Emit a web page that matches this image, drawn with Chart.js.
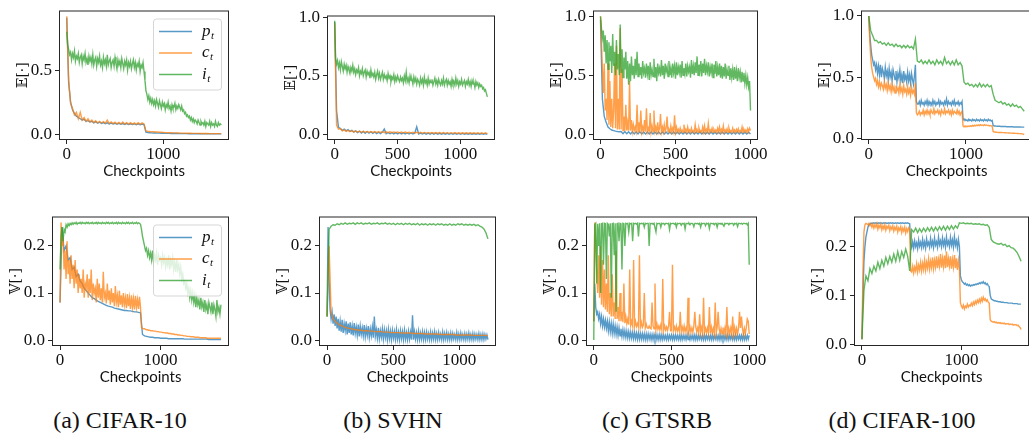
<!DOCTYPE html>
<html>
<head>
<meta charset="utf-8">
<script src="https://cdn.jsdelivr.net/npm/chart.js@4.4.1/dist/chart.umd.min.js"></script>
<style>
  html, body { margin: 0; padding: 0; background: #fff; }
  body { position: relative; width: 1029px; height: 436px; overflow: hidden; }
  canvas { position: absolute; }
  .cap { position: absolute; top: 408px; width: 300px; text-align: center;
         font: 24px "Liberation Serif", "Times New Roman", serif; line-height: 1; color: #111; }
</style>
</head>
<body>
<div class="cap" style="left:-30px">(a) CIFAR-10</div>
<div class="cap" style="left:243px">(b) SVHN</div>
<div class="cap" style="left:507px">(c) GTSRB</div>
<div class="cap" style="left:752px">(d) CIFAR-100</div>
<script>
// last checkpoint of each run; logged values are evenly spaced up to it
const spanCifar10 = 1600;
const spanSvhn = 1216;
const spanGtsrb = 1000;
const spanCifar100 = 1600;

// tick labels
const xTicksLong = [0, 1000];
const xTicksMid = [0, 500, 1000];
const meanTicksShort = [0, 0.5];
const meanTicks = [0, 0.5, 1.0];
const varTicks = [0, 0.1, 0.2];

const meanLabel = '𝔼[·]';
const varLabel = '𝕍[·]';
const seriesNames = [['p', 't'], ['c', 't'], ['i', 't']];

// ---- CIFAR-10 ----
const cifar10MeanP = [0.91,
  0.40,0.25,0.19,0.16,0.14,0.13,0.12,0.11,0.115,0.10,
  0.105,0.095,0.10,0.088,0.097,0.085,0.093,0.084,0.09,0.082,
  0.088,0.08,0.086,0.079,0.085,0.078,0.084,0.077,0.083,0.076,
  0.082,0.075,0.081,0.075,0.08,0.074,0.08,0.073,0.079,0.074,
  0.015,0.012,0.011,0.01,0.009,0.009,0.008,0.008,0.007,0.007,
  0.006,0.006,0.006,0.005,0.005,0.005,0.005,0.004,0.004,0.004,
  0.004,0.004,0.003,0.003,0.003,0.003,0.003,0.003,0.003,0.002,
  0.002,0.002,0.002,0.002,0.002,0.002,0.002,0.002,0.002,0.002];
const cifar10MeanC = [0.92,
  0.42,0.24,0.20,0.15,0.17,0.12,0.17,0.11,0.13,0.10,
  0.12,0.095,0.11,0.09,0.105,0.088,0.10,0.087,0.098,0.085,
  0.11,0.083,0.095,0.082,0.093,0.081,0.092,0.08,0.095,0.079,
  0.09,0.078,0.089,0.078,0.088,0.077,0.09,0.077,0.088,0.08,
  0.025,0.022,0.02,0.019,0.018,0.017,0.016,0.015,0.014,0.013,
  0.012,0.012,0.011,0.011,0.01,0.01,0.009,0.009,0.008,0.008,
  0.008,0.007,0.007,0.007,0.006,0.006,0.006,0.006,0.005,0.005,
  0.005,0.005,0.005,0.004,0.004,0.004,0.004,0.004,0.004,0.004];
const cifar10MeanI = [0.80,
  0.70,0.66,0.62,0.64,0.58,0.63,0.60,0.65,0.57,0.61,
  0.59,0.63,0.56,0.60,0.62,0.55,0.61,0.58,0.63,0.56,
  0.59,0.54,0.61,0.57,0.60,0.55,0.62,0.54,0.58,0.60,
  0.53,0.59,0.56,0.61,0.54,0.57,0.52,0.60,0.55,0.58,
  0.53,0.62,0.54,0.57,0.59,0.52,0.56,0.58,0.53,0.60,
  0.55,0.51,0.58,0.54,0.57,0.52,0.59,0.55,0.51,0.57,
  0.54,0.58,0.50,0.56,0.53,0.57,0.51,0.55,0.58,0.52,
  0.56,0.50,0.55,0.53,0.57,0.49,0.54,0.52,0.56,0.49,
  0.42,0.34,0.31,0.27,0.30,0.25,0.28,0.24,0.27,0.23,
  0.26,0.22,0.27,0.24,0.21,0.26,0.23,0.20,0.25,0.22,
  0.24,0.19,0.23,0.21,0.25,0.20,0.22,0.18,0.23,0.20,
  0.21,0.24,0.19,0.22,0.20,0.23,0.21,0.19,0.22,0.18,
  0.19,0.16,0.17,0.14,0.15,0.13,0.14,0.11,0.13,0.10,
  0.12,0.09,0.11,0.10,0.08,0.11,0.09,0.07,0.10,0.08,
  0.09,0.07,0.10,0.06,0.09,0.08,0.07,0.10,0.06,0.09,
  0.07,0.08,0.06,0.10,0.07,0.06,0.09,0.07,0.08,0.07];
const cifar10VarP = [0.08,
  0.24,0.19,0.20,0.17,0.175,0.15,0.155,0.135,0.14,0.125,
  0.12,0.11,0.105,0.10,0.095,0.09,0.088,0.085,0.082,0.08,
  0.078,0.076,0.074,0.072,0.071,0.07,0.068,0.067,0.066,0.065,
  0.064,0.063,0.063,0.062,0.062,0.061,0.06,0.06,0.059,0.058,
  0.012,0.009,0.008,0.007,0.006,0.006,0.005,0.005,0.005,0.004,
  0.004,0.004,0.004,0.003,0.003,0.003,0.003,0.003,0.003,0.003,
  0.003,0.002,0.002,0.002,0.002,0.002,0.002,0.002,0.002,0.002,
  0.002,0.002,0.002,0.001,0.001,0.001,0.001,0.001,0.001,0.001];
const cifar10VarC = [0.08,
  0.25,0.20,0.22,0.15,0.19,0.13,0.21,0.14,0.17,0.12,
  0.18,0.13,0.16,0.11,0.17,0.12,0.15,0.10,0.14,0.11,
  0.13,0.10,0.15,0.09,0.12,0.11,0.14,0.09,0.13,0.10,
  0.15,0.085,0.12,0.10,0.11,0.08,0.13,0.09,0.12,0.085,
  0.11,0.08,0.145,0.09,0.10,0.078,0.12,0.085,0.105,0.075,
  0.11,0.08,0.10,0.072,0.115,0.08,0.095,0.07,0.105,0.075,
  0.095,0.07,0.10,0.075,0.09,0.068,0.098,0.072,0.09,0.066,
  0.095,0.07,0.088,0.065,0.094,0.07,0.086,0.066,0.092,0.07,
  0.028,0.025,0.024,0.024,0.023,0.022,0.022,0.021,0.021,0.02,
  0.02,0.02,0.019,0.019,0.019,0.018,0.018,0.018,0.017,0.017,
  0.017,0.016,0.016,0.016,0.015,0.015,0.015,0.014,0.014,0.014,
  0.013,0.013,0.013,0.012,0.012,0.012,0.011,0.011,0.011,0.010,
  0.010,0.010,0.009,0.009,0.009,0.008,0.008,0.008,0.008,0.007,
  0.007,0.007,0.007,0.006,0.006,0.006,0.006,0.006,0.005,0.005,
  0.005,0.005,0.005,0.005,0.005,0.004,0.004,0.004,0.004,0.004,
  0.004,0.004,0.004,0.004,0.004,0.004,0.004,0.004,0.004,0.004];
const cifar10VarI = [0.15,
  0.22,0.24,0.21,0.235,0.23,0.245,0.24,0.247,0.243,0.248,
  0.245,0.249,0.246,0.249,0.247,0.25,0.246,0.249,0.248,0.25,
  0.247,0.25,0.248,0.249,0.247,0.25,0.248,0.25,0.247,0.249,
  0.248,0.25,0.247,0.249,0.248,0.25,0.247,0.25,0.248,0.249,
  0.247,0.25,0.248,0.249,0.247,0.25,0.248,0.25,0.247,0.249,
  0.248,0.25,0.247,0.249,0.248,0.25,0.247,0.25,0.248,0.249,
  0.247,0.25,0.248,0.249,0.247,0.25,0.248,0.25,0.247,0.249,
  0.248,0.25,0.247,0.249,0.248,0.25,0.247,0.249,0.248,0.246,
  0.235,0.22,0.21,0.2,0.19,0.195,0.18,0.19,0.175,0.185,
  0.17,0.19,0.165,0.18,0.17,0.185,0.16,0.18,0.17,0.175,
  0.16,0.18,0.165,0.175,0.155,0.17,0.16,0.18,0.15,0.17,
  0.16,0.175,0.15,0.165,0.145,0.17,0.15,0.16,0.14,0.155,
  0.13,0.14,0.12,0.125,0.11,0.12,0.10,0.11,0.09,0.105,
  0.085,0.10,0.08,0.095,0.07,0.09,0.075,0.085,0.065,0.09,
  0.07,0.08,0.06,0.085,0.065,0.075,0.055,0.08,0.07,0.06,
  0.08,0.055,0.075,0.065,0.05,0.085,0.06,0.07,0.055,0.075];

// ---- SVHN ----
const svhnMeanP = [0.96,
  0.20,0.06,0.05,0.035,0.045,0.03,0.04,0.025,0.035,0.02,
  0.03,0.015,0.028,0.012,0.025,0.01,0.024,0.01,0.022,0.008,
  0.02,0.007,0.018,0.006,0.02,0.045,0.006,0.016,0.005,0.015,
  0.004,0.015,0.004,0.014,0.004,0.013,0.003,0.012,0.003,0.012,
  0.003,0.012,0.065,0.003,0.011,0.003,0.011,0.002,0.01,0.002,
  0.01,0.002,0.01,0.002,0.009,0.002,0.009,0.002,0.009,0.002,
  0.008,0.002,0.008,0.002,0.008,0.001,0.008,0.001,0.007,0.001,
  0.007,0.001,0.007,0.001,0.007,0.001,0.006,0.001,0.006,0.001];
const svhnMeanC = [0.95,
  0.08,0.045,0.05,0.03,0.038,0.026,0.034,0.024,0.03,0.021,
  0.028,0.02,0.027,0.019,0.026,0.018,0.025,0.017,0.025,0.017,
  0.024,0.016,0.023,0.016,0.023,0.015,0.022,0.015,0.022,0.014,
  0.021,0.014,0.021,0.013,0.02,0.013,0.02,0.012,0.019,0.012,
  0.019,0.012,0.018,0.011,0.018,0.011,0.017,0.011,0.017,0.01,
  0.017,0.01,0.016,0.01,0.016,0.009,0.016,0.009,0.015,0.009,
  0.015,0.009,0.015,0.008,0.014,0.008,0.014,0.008,0.014,0.008,
  0.014,0.008,0.013,0.007,0.013,0.007,0.013,0.007,0.013,0.007];
const svhnMeanI = [0.97,
  0.65,0.60,0.63,0.57,0.61,0.55,0.62,0.58,0.54,0.60,
  0.56,0.59,0.53,0.58,0.55,0.52,0.57,0.54,0.59,0.53,
  0.56,0.51,0.55,0.53,0.57,0.50,0.54,0.52,0.56,0.50,
  0.53,0.55,0.49,0.54,0.51,0.53,0.48,0.55,0.50,0.52,
  0.49,0.53,0.47,0.51,0.54,0.48,0.52,0.47,0.50,0.53,
  0.47,0.51,0.48,0.50,0.46,0.52,0.48,0.50,0.45,0.49,
  0.47,0.51,0.45,0.49,0.46,0.50,0.47,0.45,0.49,0.46,
  0.48,0.44,0.50,0.46,0.53,0.45,0.48,0.44,0.50,0.46,
  0.47,0.43,0.49,0.45,0.48,0.43,0.47,0.45,0.42,0.48,
  0.44,0.47,0.42,0.49,0.44,0.46,0.42,0.48,0.43,0.46,
  0.44,0.47,0.42,0.45,0.48,0.43,0.46,0.42,0.47,0.44,
  0.42,0.46,0.43,0.48,0.42,0.45,0.47,0.42,0.46,0.43,
  0.45,0.41,0.47,0.43,0.45,0.42,0.48,0.43,0.46,0.41,
  0.45,0.43,0.47,0.42,0.44,0.46,0.41,0.45,0.43,0.47,
  0.42,0.45,0.41,0.46,0.43,0.44,0.40,0.45,0.42,0.44,
  0.40,0.43,0.41,0.42,0.39,0.40,0.37,0.38,0.35,0.32];
const svhnVarP = [0.05,
  0.24,0.13,0.065,0.045,0.06,0.035,0.055,0.03,0.05,0.025,
  0.045,0.02,0.04,0.018,0.043,0.015,0.035,0.02,0.04,0.012,
  0.035,0.015,0.038,0.012,0.03,0.01,0.036,0.014,0.028,0.01,
  0.033,0.008,0.03,0.012,0.026,0.009,0.032,0.007,0.025,0.01,
  0.03,0.006,0.024,0.009,0.028,0.005,0.05,0.008,0.022,0.004,
  0.026,0.003,0.02,0.006,0.024,0.002,0.022,0.005,0.02,0.001,
  0.023,0.003,0.019,0.001,0.021,0.004,0.018,0.001,0.022,0.002,
  0.017,0.001,0.02,0.003,0.018,0.001,0.021,0.002,0.016,0.001,
  0.019,0.002,0.017,0.001,0.053,0.001,0.018,0.002,0.016,0.001,
  0.019,0.001,0.015,0.002,0.018,0.001,0.016,0.001,0.017,0.002,
  0.014,0.001,0.017,0.001,0.015,0.002,0.018,0.001,0.014,0.001,
  0.016,0.002,0.013,0.001,0.017,0.001,0.014,0.002,0.016,0.001,
  0.013,0.001,0.015,0.001,0.014,0.002,0.012,0.001,0.016,0.001,
  0.013,0.001,0.015,0.002,0.012,0.001,0.014,0.001,0.013,0.002,
  0.015,0.001,0.012,0.001,0.014,0.001,0.013,0.002,0.012,0.001,
  0.014,0.001,0.012,0.001,0.013,0.001,0.012,0.002,0.011,0.001];
const svhnVarC = [0.05,
  0.2,0.06,0.045,0.04,0.036,0.033,0.031,0.029,0.027,0.026,
  0.025,0.024,0.023,0.022,0.022,0.021,0.021,0.02,0.02,0.02,
  0.019,0.019,0.019,0.018,0.018,0.018,0.018,0.017,0.017,0.017,
  0.017,0.016,0.016,0.016,0.016,0.016,0.015,0.015,0.015,0.015,
  0.015,0.015,0.014,0.014,0.014,0.014,0.014,0.014,0.013,0.013,
  0.013,0.013,0.013,0.013,0.013,0.012,0.012,0.012,0.012,0.012,
  0.012,0.012,0.012,0.011,0.011,0.011,0.011,0.011,0.011,0.011,
  0.011,0.011,0.01,0.01,0.01,0.01,0.01,0.01,0.01,0.009];
const svhnVarI = [0.05,
  0.235,0.242,0.245,0.244,0.247,0.245,0.248,0.246,0.249,0.246,
  0.248,0.247,0.249,0.246,0.249,0.247,0.249,0.246,0.248,0.247,
  0.249,0.246,0.248,0.247,0.249,0.246,0.248,0.247,0.249,0.246,
  0.248,0.246,0.248,0.245,0.248,0.246,0.248,0.245,0.248,0.246,
  0.248,0.245,0.247,0.245,0.248,0.244,0.247,0.245,0.247,0.244,
  0.247,0.245,0.247,0.244,0.247,0.245,0.247,0.244,0.246,0.244,
  0.247,0.244,0.246,0.244,0.247,0.245,0.247,0.244,0.246,0.244,
  0.246,0.244,0.246,0.243,0.245,0.242,0.24,0.236,0.228,0.215];

// ---- GTSRB ----
const gtsrbMeanP = [0.97,
  0.3,0.15,0.1,0.06,0.045,0.035,0.03,0.025,0.022,0.02,
  0.022,0.004,0.021,0.003,0.02,0.002,0.02,0.002,0.019,0.002,
  0.019,0.001,0.018,0.001,0.018,0.001,0.018,0.001,0.017,0.001,
  0.018,0.001,0.017,0.001,0.018,0.001,0.017,0.001,0.017,0.001,
  0.017,0.001,0.016,0.001,0.017,0.001,0.016,0.001,0.017,0.001,
  0.016,0.001,0.017,0.001,0.016,0.001,0.016,0.001,0.017,0.001,
  0.016,0.001,0.016,0.001,0.017,0.001,0.016,0.001,0.016,0.001,
  0.016,0.001,0.017,0.001,0.016,0.001,0.016,0.001,0.016,0.001];
const gtsrbMeanC = [1.0,
  0.8,0.55,0.35,0.6,0.2,0.3,0.12,0.6,0.08,0.45,
  0.06,0.3,0.05,0.2,0.6,0.05,0.75,0.04,0.3,0.04,
  0.9,0.04,0.55,0.03,0.15,0.03,0.25,0.03,0.1,0.03,
  0.45,0.03,0.12,0.025,0.08,0.03,0.06,0.025,0.25,0.02,
  0.1,0.025,0.2,0.02,0.06,0.025,0.12,0.02,0.22,0.02,
  0.05,0.025,0.18,0.02,0.07,0.02,0.2,0.025,0.06,0.02,
  0.1,0.02,0.05,0.17,0.02,0.06,0.02,0.08,0.02,0.05,
  0.15,0.02,0.04,0.02,0.07,0.02,0.05,0.02,0.16,0.02,
  0.06,0.02,0.04,0.015,0.05,0.02,0.035,0.015,0.08,0.02,
  0.04,0.015,0.06,0.02,0.035,0.015,0.05,0.02,0.03,0.015,
  0.08,0.02,0.04,0.015,0.05,0.02,0.03,0.015,0.06,0.02,
  0.07,0.015,0.04,0.02,0.09,0.015,0.035,0.02,0.05,0.015,
  0.04,0.02,0.035,0.015,0.05,0.02,0.06,0.015,0.04,0.02,
  0.07,0.015,0.035,0.02,0.045,0.015,0.05,0.02,0.03,0.015,
  0.05,0.02,0.035,0.015,0.04,0.02,0.045,0.015,0.03,0.02,
  0.06,0.015,0.04,0.02,0.035,0.015,0.045,0.02,0.05,0.03];
const gtsrbMeanI = [1.0,
  0.9,0.82,0.88,0.7,0.84,0.6,0.8,0.55,0.78,0.62,
  0.75,0.52,0.85,0.58,0.7,0.5,0.8,0.55,0.68,0.5,
  0.93,0.52,0.72,0.48,0.65,0.55,0.7,0.47,0.62,0.42,
  0.6,0.45,0.66,0.5,0.58,0.47,0.64,0.5,0.7,0.49,
  0.6,0.5,0.57,0.47,0.62,0.52,0.56,0.48,0.6,0.51,
  0.58,0.46,0.61,0.5,0.55,0.49,0.64,0.48,0.57,0.45,
  0.6,0.52,0.56,0.49,0.63,0.5,0.58,0.47,0.6,0.53,
  0.57,0.49,0.62,0.5,0.56,0.48,0.6,0.52,0.58,0.47,
  0.61,0.5,0.57,0.52,0.59,0.48,0.62,0.5,0.56,0.51,
  0.6,0.49,0.58,0.53,0.57,0.48,0.63,0.51,0.58,0.5,
  0.61,0.52,0.66,0.5,0.59,0.53,0.62,0.49,0.6,0.52,
  0.64,0.5,0.58,0.53,0.61,0.49,0.57,0.52,0.6,0.48,
  0.59,0.51,0.62,0.49,0.57,0.5,0.6,0.48,0.58,0.47,
  0.57,0.49,0.6,0.47,0.55,0.5,0.58,0.46,0.56,0.48,
  0.55,0.46,0.57,0.47,0.54,0.45,0.56,0.48,0.53,0.44,
  0.53,0.45,0.52,0.43,0.5,0.42,0.48,0.4,0.45,0.2];
const gtsrbVarP = [0.04,
  0.12,0.07,0.055,0.06,0.045,0.055,0.035,0.05,0.03,0.045,
  0.028,0.042,0.025,0.04,0.02,0.038,0.018,0.035,0.015,0.034,
  0.014,0.03,0.012,0.028,0.01,0.026,0.009,0.024,0.008,0.022,
  0.007,0.02,0.006,0.019,0.005,0.018,0.004,0.017,0.004,0.016,
  0.003,0.016,0.003,0.015,0.002,0.015,0.002,0.014,0.002,0.014,
  0.002,0.013,0.001,0.013,0.001,0.013,0.002,0.012,0.001,0.012,
  0.001,0.012,0.002,0.012,0.001,0.011,0.001,0.012,0.001,0.011,
  0.001,0.011,0.002,0.01,0.001,0.011,0.001,0.01,0.002,0.011,
  0.001,0.01,0.001,0.011,0.002,0.01,0.001,0.01,0.001,0.011,
  0.001,0.01,0.002,0.01,0.001,0.011,0.001,0.01,0.001,0.01,
  0.002,0.01,0.001,0.011,0.001,0.01,0.001,0.01,0.002,0.01,
  0.001,0.01,0.001,0.011,0.001,0.01,0.002,0.01,0.001,0.01,
  0.001,0.011,0.001,0.01,0.002,0.01,0.001,0.01,0.001,0.011,
  0.001,0.01,0.002,0.01,0.001,0.01,0.001,0.011,0.001,0.01,
  0.002,0.01,0.001,0.01,0.001,0.011,0.001,0.01,0.002,0.01,
  0.001,0.01,0.001,0.011,0.001,0.01,0.001,0.01,0.002,0.01];
const gtsrbVarC = [0.04,
  0.25,0.2,0.15,0.1,0.18,0.09,0.2,0.075,0.17,0.07,
  0.15,0.065,0.12,0.06,0.18,0.055,0.1,0.05,0.14,0.05,
  0.08,0.045,0.19,0.045,0.07,0.04,0.1,0.04,0.06,0.038,
  0.12,0.036,0.05,0.035,0.045,0.033,0.15,0.032,0.04,0.03,
  0.17,0.03,0.04,0.029,0.035,0.028,0.18,0.028,0.038,0.027,
  0.032,0.1,0.026,0.034,0.026,0.025,0.03,0.025,0.024,0.08,
  0.03,0.024,0.12,0.023,0.034,0.023,0.03,0.022,0.032,0.022,
  0.13,0.022,0.03,0.021,0.028,0.021,0.03,0.06,0.02,0.02,
  0.16,0.02,0.028,0.02,0.03,0.019,0.026,0.019,0.06,0.019,
  0.028,0.018,0.03,0.018,0.026,0.018,0.09,0.018,0.028,0.017,
  0.026,0.017,0.03,0.06,0.028,0.017,0.026,0.016,0.055,0.016,
  0.027,0.016,0.09,0.016,0.025,0.016,0.026,0.015,0.07,0.015,
  0.028,0.015,0.025,0.015,0.08,0.015,0.027,0.06,0.025,0.014,
  0.025,0.014,0.027,0.014,0.026,0.014,0.07,0.014,0.025,0.014,
  0.026,0.014,0.05,0.013,0.027,0.013,0.025,0.013,0.025,0.06,
  0.026,0.05,0.025,0.013,0.025,0.013,0.027,0.045,0.04,0.013];
const gtsrbVarI = [0.0,
  0.245,0.248,0.12,0.247,0.2,0.248,0.1,0.247,0.248,0.16,
  0.248,0.247,0.13,0.248,0.246,0.22,0.248,0.09,0.247,0.248,
  0.18,0.248,0.06,0.247,0.248,0.21,0.248,0.247,0.15,0.248,
  0.247,0.2,0.248,0.247,0.248,0.23,0.248,0.247,0.248,0.21,
  0.248,0.247,0.248,0.246,0.248,0.22,0.248,0.247,0.248,0.247,
  0.248,0.24,0.248,0.247,0.248,0.248,0.2,0.248,0.247,0.248,
  0.246,0.248,0.248,0.23,0.248,0.247,0.248,0.248,0.24,0.248,
  0.247,0.248,0.245,0.248,0.248,0.247,0.248,0.235,0.248,0.247,
  0.248,0.248,0.246,0.248,0.24,0.248,0.247,0.248,0.248,0.244,
  0.248,0.247,0.248,0.236,0.248,0.248,0.247,0.248,0.245,0.248,
  0.248,0.247,0.241,0.248,0.248,0.247,0.248,0.246,0.248,0.24,
  0.248,0.247,0.248,0.248,0.243,0.248,0.247,0.248,0.237,0.248,
  0.248,0.247,0.248,0.245,0.248,0.248,0.24,0.248,0.247,0.248,
  0.246,0.248,0.248,0.242,0.248,0.247,0.248,0.248,0.245,0.248,
  0.247,0.248,0.248,0.244,0.248,0.247,0.248,0.241,0.248,0.248,
  0.247,0.248,0.246,0.248,0.248,0.247,0.248,0.245,0.248,0.16];

// ---- CIFAR-100 ----
const cifar100MeanP = [1.0,
  0.85,0.76,0.68,0.64,0.6,0.62,0.56,0.6,0.53,0.59,
  0.52,0.6,0.5,0.57,0.54,0.49,0.58,0.51,0.55,0.48,
  0.57,0.5,0.54,0.47,0.56,0.52,0.48,0.55,0.46,0.53,
  0.49,0.56,0.47,0.52,0.45,0.55,0.48,0.51,0.46,0.54,
  0.47,0.52,0.45,0.53,0.48,0.44,0.51,0.6,0.3,0.28,
  0.28,0.3,0.27,0.31,0.28,0.29,0.27,0.3,0.28,0.31,
  0.27,0.3,0.28,0.29,0.27,0.31,0.28,0.3,0.27,0.29,
  0.28,0.31,0.27,0.3,0.28,0.29,0.27,0.3,0.28,0.32,
  0.27,0.3,0.28,0.29,0.27,0.3,0.28,0.31,0.27,0.29,
  0.28,0.3,0.27,0.29,0.28,0.3,0.16,0.15,0.155,0.145,
  0.15,0.14,0.155,0.145,0.15,0.14,0.155,0.145,0.15,0.14,
  0.155,0.145,0.15,0.14,0.155,0.145,0.15,0.14,0.155,0.145,
  0.15,0.14,0.155,0.145,0.15,0.14,0.145,0.105,0.1,0.1,
  0.099,0.098,0.098,0.097,0.097,0.096,0.096,0.096,0.095,0.095,
  0.095,0.094,0.094,0.094,0.093,0.093,0.093,0.093,0.092,0.092,
  0.092,0.092,0.091,0.091,0.091,0.091,0.09,0.09,0.09,0.09];
const cifar100MeanC = [1.0,
  0.8,0.66,0.58,0.53,0.5,0.47,0.49,0.44,0.47,0.42,
  0.46,0.41,0.45,0.43,0.4,0.46,0.41,0.44,0.39,0.45,
  0.4,0.43,0.38,0.44,0.39,0.42,0.37,0.43,0.39,0.41,
  0.37,0.44,0.38,0.41,0.36,0.43,0.38,0.4,0.36,0.42,
  0.37,0.4,0.35,0.42,0.37,0.39,0.36,0.45,0.21,0.19,
  0.2,0.22,0.19,0.21,0.2,0.23,0.19,0.22,0.2,0.23,
  0.2,0.22,0.19,0.23,0.21,0.2,0.24,0.2,0.22,0.21,
  0.23,0.2,0.22,0.19,0.23,0.21,0.2,0.24,0.2,0.22,
  0.21,0.23,0.2,0.22,0.19,0.23,0.2,0.22,0.21,0.2,
  0.23,0.2,0.22,0.19,0.21,0.22,0.1,0.095,0.1,0.092,
  0.098,0.094,0.1,0.096,0.102,0.097,0.104,0.099,0.106,0.1,
  0.107,0.102,0.109,0.103,0.11,0.104,0.108,0.103,0.11,0.104,
  0.108,0.103,0.106,0.1,0.104,0.1,0.1,0.055,0.05,0.05,
  0.049,0.048,0.048,0.047,0.047,0.046,0.046,0.045,0.045,0.044,
  0.044,0.043,0.043,0.042,0.042,0.041,0.041,0.04,0.04,0.04,
  0.039,0.039,0.038,0.038,0.037,0.037,0.036,0.035,0.033,0.03];
const cifar100MeanI = [1.0,
  0.88,0.84,0.8,0.8,0.78,0.79,0.77,0.78,0.76,0.78,
  0.76,0.77,0.75,0.77,0.75,0.76,0.74,0.76,0.74,0.76,
  0.74,0.75,0.73,0.81,0.63,0.62,0.64,0.61,0.63,0.61,
  0.64,0.61,0.63,0.6,0.64,0.61,0.63,0.6,0.66,0.61,
  0.63,0.6,0.63,0.6,0.64,0.6,0.62,0.59,0.46,0.44,
  0.45,0.43,0.44,0.42,0.44,0.42,0.45,0.42,0.44,0.42,
  0.44,0.42,0.43,0.36,0.31,0.3,0.29,0.3,0.28,0.29,
  0.27,0.28,0.26,0.28,0.26,0.27,0.25,0.26,0.24,0.22];
const cifar100VarP = [0.01,
  0.1,0.17,0.2,0.22,0.23,0.24,0.245,0.247,0.248,0.248,
  0.248,0.249,0.248,0.249,0.248,0.248,0.249,0.248,0.249,0.248,
  0.248,0.249,0.248,0.249,0.248,0.248,0.249,0.248,0.249,0.248,
  0.249,0.248,0.248,0.249,0.248,0.249,0.248,0.248,0.249,0.248,
  0.249,0.248,0.248,0.249,0.248,0.249,0.248,0.247,0.205,0.198,
  0.21,0.197,0.212,0.2,0.208,0.196,0.214,0.201,0.209,0.198,
  0.215,0.2,0.21,0.197,0.216,0.203,0.209,0.199,0.217,0.202,
  0.211,0.198,0.218,0.203,0.21,0.199,0.22,0.204,0.212,0.2,
  0.218,0.203,0.213,0.199,0.22,0.204,0.211,0.2,0.219,0.203,
  0.214,0.199,0.221,0.203,0.212,0.198,0.215,0.2,0.14,0.132,
  0.128,0.126,0.123,0.125,0.121,0.123,0.12,0.122,0.119,0.121,
  0.12,0.122,0.121,0.123,0.122,0.124,0.123,0.126,0.124,0.127,
  0.125,0.128,0.124,0.126,0.122,0.124,0.12,0.118,0.1,0.093,
  0.091,0.09,0.089,0.089,0.088,0.088,0.087,0.087,0.087,0.086,
  0.086,0.086,0.085,0.085,0.085,0.085,0.084,0.084,0.084,0.084,
  0.084,0.083,0.083,0.083,0.083,0.083,0.082,0.082,0.082,0.082];
const cifar100VarC = [0.01,
  0.15,0.23,0.245,0.248,0.247,0.245,0.248,0.243,0.247,0.24,
  0.246,0.238,0.245,0.24,0.247,0.236,0.244,0.239,0.246,0.235,
  0.243,0.237,0.245,0.234,0.242,0.238,0.244,0.233,0.241,0.236,
  0.243,0.232,0.24,0.235,0.242,0.23,0.239,0.234,0.241,0.229,
  0.238,0.232,0.24,0.228,0.237,0.231,0.239,0.236,0.15,0.148,
  0.16,0.146,0.158,0.15,0.165,0.148,0.162,0.152,0.168,0.15,
  0.166,0.153,0.172,0.152,0.168,0.156,0.175,0.154,0.17,0.157,
  0.178,0.155,0.172,0.158,0.18,0.156,0.174,0.16,0.185,0.157,
  0.176,0.159,0.182,0.156,0.19,0.158,0.175,0.16,0.18,0.155,
  0.174,0.158,0.183,0.156,0.176,0.152,0.172,0.155,0.085,0.078,
  0.074,0.08,0.072,0.078,0.075,0.082,0.076,0.08,0.078,0.084,
  0.079,0.086,0.081,0.088,0.083,0.09,0.085,0.092,0.086,0.094,
  0.088,0.096,0.09,0.093,0.088,0.091,0.086,0.084,0.05,0.047,
  0.046,0.045,0.046,0.044,0.045,0.043,0.044,0.043,0.044,0.042,
  0.043,0.042,0.043,0.041,0.042,0.041,0.042,0.04,0.041,0.04,
  0.041,0.039,0.04,0.039,0.04,0.038,0.039,0.036,0.034,0.03];
const cifar100VarI = [0.01,
  0.11,0.14,0.13,0.155,0.145,0.16,0.15,0.168,0.155,0.172,
  0.16,0.178,0.165,0.18,0.168,0.185,0.17,0.19,0.172,0.19,
  0.178,0.195,0.18,0.15,0.235,0.23,0.238,0.229,0.237,0.23,
  0.238,0.231,0.239,0.232,0.24,0.232,0.24,0.233,0.241,0.234,
  0.242,0.234,0.242,0.235,0.243,0.236,0.243,0.238,0.249,0.248,
  0.249,0.247,0.248,0.247,0.248,0.246,0.247,0.246,0.247,0.245,
  0.246,0.244,0.245,0.24,0.215,0.21,0.208,0.206,0.205,0.207,
  0.203,0.205,0.2,0.202,0.198,0.197,0.193,0.188,0.18,0.17];

// tab10 blue / orange / green at alpha 0.75
const lineColors = ['rgba(31,119,180,0.75)', 'rgba(255,127,14,0.75)', 'rgba(44,160,44,0.75)'];

// plot boxes are [left, right, top, bottom] in page pixels
const panels = [
  { box: [59, 229, 7, 140], x: [-80, 1680], y: [-0.046, 0.966], span: spanCifar10, xTicks: xTicksLong, yTicks: meanTicksShort,
    label: meanLabel, series: [cifar10MeanP, cifar10MeanC, cifar10MeanI], legend: true },
  { box: [327, 495, 12, 140], x: [-61, 1277], y: [-0.048, 1.015], span: spanSvhn, xTicks: xTicksMid, yTicks: meanTicks,
    label: meanLabel, series: [svhnMeanP, svhnMeanC, svhnMeanI] },
  { box: [593, 758, 7, 140], x: [-50, 1050], y: [-0.05, 1.05], span: spanGtsrb, xTicks: xTicksMid, yTicks: meanTicks,
    label: meanLabel, series: [gtsrbMeanP, gtsrbMeanC, gtsrbMeanI] },
  { box: [861, 1032, 7, 140], x: [-80, 1680], y: [-0.015, 1.045], span: spanCifar100, xTicks: xTicksLong, yTicks: meanTicks,
    label: meanLabel, series: [cifar100MeanP, cifar100MeanC, cifar100MeanI] },
  { box: [52, 229, 213, 346], x: [-80, 1680], y: [-0.0125, 0.2625], span: spanCifar10, xTicks: xTicksLong, yTicks: varTicks,
    label: varLabel, series: [cifar10VarP, cifar10VarC, cifar10VarI], legend: true },
  { box: [319, 496, 213, 346], x: [-61, 1277], y: [-0.0125, 0.2625], span: spanSvhn, xTicks: xTicksMid, yTicks: varTicks,
    label: varLabel, series: [svhnVarP, svhnVarC, svhnVarI] },
  { box: [586, 757, 213, 346], x: [-50, 1050], y: [-0.0125, 0.2625], span: spanGtsrb, xTicks: xTicksMid, yTicks: varTicks,
    label: varLabel, series: [gtsrbVarP, gtsrbVarC, gtsrbVarI] },
  { box: [854, 1029, 213, 346], x: [-80, 1680], y: [-0.004, 0.262], span: spanCifar100, xTicks: xTicksLong, yTicks: varTicks,
    label: varLabel, series: [cifar100VarP, cifar100VarC, cifar100VarI] }
];

// axes frame on all four sides
const framePlugin = {
  id: 'frame',
  afterDatasetsDraw(chart) {
    const { ctx, chartArea: a } = chart;
    ctx.save();
    ctx.strokeStyle = '#262626';
    ctx.lineWidth = 1;
    ctx.strokeRect(a.left + 0.5, a.top + 0.5, a.right - a.left - 1, a.bottom - a.top - 1);
    ctx.restore();
  }
};

const serif = '"Liberation Serif", "Times New Roman", serif';

// legend box in the upper right corner of the axes
const boxLegend = {
  id: 'boxLegend',
  afterDraw(chart, args, opts) {
    if (!opts.show) return;
    const { ctx, chartArea: a } = chart;
    const x0 = a.right - 76, y0 = a.top + 8, w = 68, h = 71;
    ctx.save();
    ctx.beginPath();
    ctx.roundRect(x0 + 0.5, y0 + 0.5, w, h, 3);
    ctx.fillStyle = 'rgba(255,255,255,0.8)';
    ctx.fill();
    ctx.strokeStyle = 'rgba(204,204,204,0.8)';
    ctx.lineWidth = 1;
    ctx.stroke();
    seriesNames.forEach(([sym, sub], k) => {
      const y = a.top + 21 + k * 21.5;
      ctx.beginPath();
      ctx.moveTo(x0 + 6, y);
      ctx.lineTo(x0 + 39, y);
      ctx.strokeStyle = lineColors[k];
      ctx.lineWidth = 1.5;
      ctx.stroke();
      ctx.fillStyle = '#111';
      ctx.textBaseline = 'alphabetic';
      ctx.font = 'italic 17px ' + serif;
      ctx.fillText(sym, x0 + 49, y + 4);
      const sw = ctx.measureText(sym).width;
      ctx.font = 'italic 11px ' + serif;
      ctx.fillText(sub, x0 + 49 + sw + 0.5, y + 7);
    });
    ctx.restore();
  }
};

const tickFont = { family: serif, size: 17, lineHeight: 1 };
const yAxisW = 44, xAxisH = 40, padT = 8, padR = 14, padB = 2;

panels.forEach(p => {
  const [l, r, t, b] = p.box;
  const canvas = document.createElement('canvas');
  canvas.width = yAxisW + (r - l) + padR;
  canvas.height = padT + (b - t) + xAxisH + padB;
  canvas.style.left = (l - yAxisW) + 'px';
  canvas.style.top = (t - padT) + 'px';
  document.body.appendChild(canvas);

  const datasets = p.series.map((ys, k) => {
    const step = p.span / (ys.length - 1);
    return {
      label: seriesNames[k].join('_'),
      data: ys.map((y, i) => ({ x: i * step, y: y })),
      borderColor: lineColors[k],
      borderWidth: 1.4,
      pointRadius: 0,
      tension: 0,
      order: 2 - k,
      clip: 0
    };
  });

  new Chart(canvas, {
    type: 'line',
    data: { datasets: datasets },
    options: {
      responsive: false,
      animation: false,
      events: [],
      devicePixelRatio: 1,
      layout: { padding: { left: 0, top: padT, right: padR, bottom: padB } },
      plugins: {
        legend: { display: false },
        tooltip: { enabled: false },
        boxLegend: { show: !!p.legend }
      },
      scales: {
        x: {
          type: 'linear',
          min: p.x[0],
          max: p.x[1],
          afterBuildTicks: s => { s.ticks = p.xTicks.map(v => ({ value: v })); },
          afterFit: s => { s.height = xAxisH; },
          ticks: { font: tickFont, color: '#111', padding: 2, maxRotation: 0, autoSkip: false,
                   callback: v => String(v) },
          grid: { drawOnChartArea: false, drawTicks: true, tickLength: 4, color: '#262626' },
          border: { display: false },
          title: { display: true, text: 'Checkpoints', color: '#111', padding: 0,
                   font: { family: 'Lato', size: 15, lineHeight: 1.2 } }
        },
        y: {
          type: 'linear',
          min: p.y[0],
          max: p.y[1],
          afterBuildTicks: s => { s.ticks = p.yTicks.map(v => ({ value: v })); },
          afterFit: s => { s.width = yAxisW; },
          ticks: { font: tickFont, color: '#111', padding: 3, autoSkip: false,
                   callback: v => v.toFixed(1) },
          grid: { drawOnChartArea: false, drawTicks: true, tickLength: 4, color: '#262626' },
          border: { display: false },
          title: { display: true, text: p.label, color: '#111', padding: 0,
                   font: { family: '"DejaVu Serif", "DejaVu Sans"', size: 14, lineHeight: 1.2 } }
        }
      }
    },
    plugins: [framePlugin, boxLegend]
  });
});
</script>
</body>
</html>
